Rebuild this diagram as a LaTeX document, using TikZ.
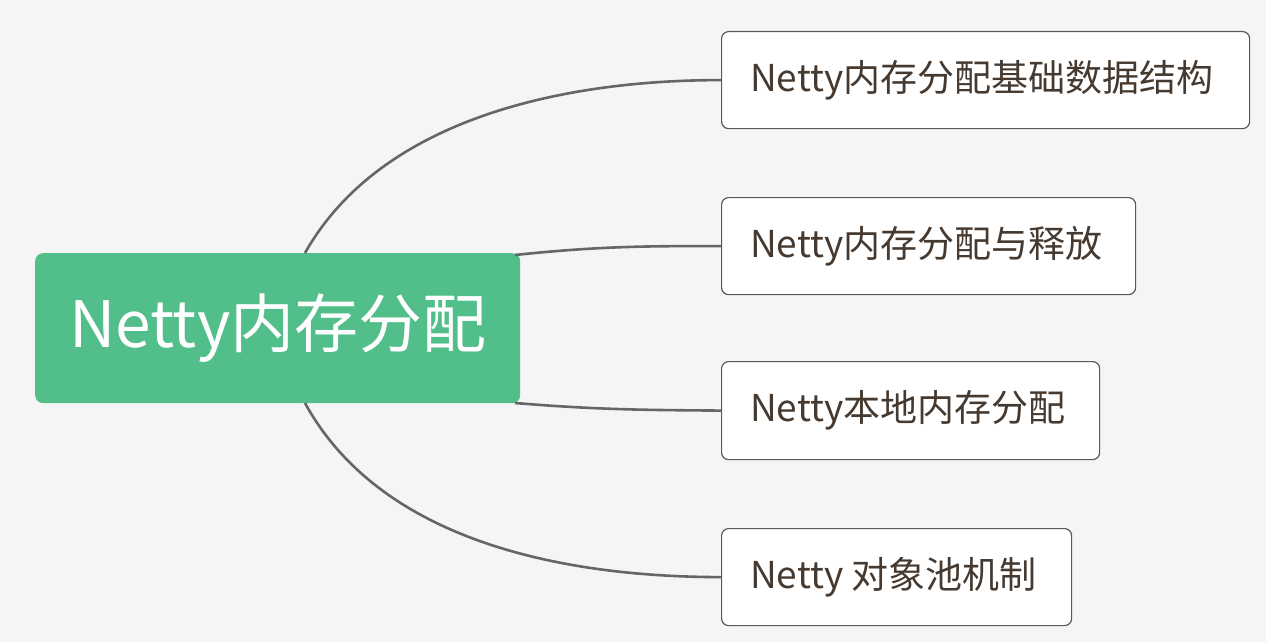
\documentclass[tikz,border=0pt]{standalone}
\usepackage{fontspec}
\setmainfont{Noto Sans CJK SC}
\begin{document}
\begin{tikzpicture}[x=1pt,y=-1pt,
  leaf/.style={draw=black!65,line width=1.2pt,fill=white,rounded corners=7pt,anchor=north west,inner sep=0pt},
  lbl/.style={anchor=west,inner sep=0pt,text={rgb,255:red,70;green,58;blue,48},font=\fontsize{37}{42}\selectfont},
  conn/.style={draw=black!60,line width=2.6pt}]
\fill[black!4] (0,0) rectangle (1266,642);
\useasboundingbox (0,0) rectangle (1266,642);
\node[fill={rgb,255:red,82;green,190;blue,138},rounded corners=8pt,minimum width=485pt,minimum height=150pt,anchor=north west,text=white,font=\fontsize{64}{70}\selectfont] (c) at (35,253) {Netty内存分配};
\node[leaf,minimum width=528pt,minimum height=97pt] (a) at (721,31) {};
\node[lbl] (ta) at (750,80) {Netty内存分配基础数据结构};
\node[leaf,minimum width=414pt,minimum height=97pt] (b) at (721,197) {};
\node[lbl] (tb) at (750,246) {Netty内存分配与释放};
\node[leaf,minimum width=378pt,minimum height=98pt] (d) at (721,361) {};
\node[lbl] (td) at (750,410) {Netty本地内存分配};
\node[leaf,minimum width=350pt,minimum height=97pt] (e) at (721,528) {};
\node[lbl] (te) at (750,577) {Netty 对象池机制};
\coordinate (c1) at (305,253);
\coordinate (c2) at (515,255);
\coordinate (c3) at (515,403);
\coordinate (c4) at (305,403);
\draw[conn] (c1) .. controls (380,120) and (560,80) .. (a.west);
\draw[conn] (c2) .. controls (600,246) and (650,246) .. (b.west);
\draw[conn] (c3) .. controls (600,410) and (650,410) .. (d.west);
\draw[conn] (c4) .. controls (380,540) and (560,577) .. (e.west);
\end{tikzpicture}
\end{document}
